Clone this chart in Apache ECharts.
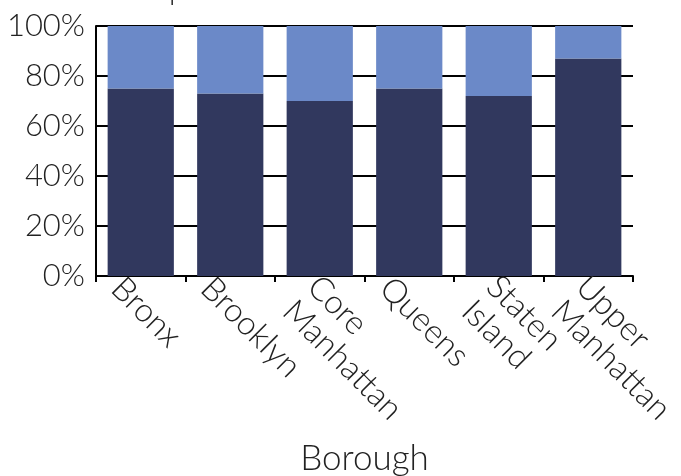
<!DOCTYPE html>
<html>
<head>
<meta charset="utf-8">
<script src="https://cdn.jsdelivr.net/npm/echarts@6/dist/echarts.min.js"></script>
<style>
html,body{margin:0;padding:0;background:#fff;}
#chart{width:681px;height:476px;}
</style>
</head>
<body>
<div id="chart"></div>
<script>
var categories = ['Bronx', 'Brooklyn', 'Core\nManhattan', 'Queens', 'Staten\nIsland', 'Upper\nManhattan'];
var lowerShare = [75, 73, 70, 75, 72, 87];
var upperShare = [25, 27, 30, 25, 28, 13];
var yTicks = [0, 20, 40, 60, 80, 100];

var FONT = 'Lato';
var labelFont = {fontFamily: FONT, fontWeight: 300, fontSize: 33, lineHeight: 35, color: '#222'};
function richStyle(pad) {
  return Object.assign({padding: pad}, labelFont);
}
var chart = echarts.init(document.getElementById('chart'));
chart.setOption({
  animation: false,
  title: {
    text: 'p', left: 164, top: -30,
    textStyle: {fontFamily: FONT, fontWeight: 300, fontSize: 30, color: '#222'}
  },
  grid: {left: 96, right: 48, top: 26, bottom: 200, outerBoundsMode: 'none', containLabel: false},
  xAxis: {
    type: 'category',
    data: categories,
    name: 'Borough',
    nameLocation: 'middle',
    nameGap: 165,
    nameTextStyle: {fontFamily: FONT, fontWeight: 300, fontSize: 35, color: '#222'},
    axisLine: {show: true, lineStyle: {color: '#000', width: 2}},
    axisTick: {show: true, alignWithLabel: false, length: 6, lineStyle: {color: '#000', width: 2}},
    axisLabel: Object.assign({
      interval: 0, rotate: -45, margin: -20,
      align: 'left', verticalAlign: 'top',
      formatter: function (v) {
        var lines = v.split('\n');
        var key = lines.length > 1 ? 'two' : 'one';
        return lines.map(function (l) { return '{' + key + '|' + l + '}'; }).join('\n');
      },
      rich: {
        one: richStyle([37, 0, 0, 2]),
        two: richStyle([10, 0, 0, 13])
      }
    }, labelFont),
    splitLine: {show: false}
  },
  yAxis: {
    type: 'value',
    min: yTicks[0], max: yTicks[yTicks.length - 1], interval: 20,
    axisLine: {show: true, lineStyle: {color: '#000', width: 2}},
    axisTick: {show: false},
    axisLabel: {
      formatter: '{value}%', margin: 11,
      fontFamily: FONT, fontWeight: 300, fontSize: 31, color: '#222'
    },
    splitLine: {show: true, lineStyle: {color: '#000', width: 2}}
  },
  series: [
    {
      type: 'bar', stack: 'share', data: lowerShare, barWidth: '74%',
      itemStyle: {color: '#31385e'}, z: 3
    },
    {
      type: 'bar', stack: 'share', data: upperShare, barWidth: '74%',
      itemStyle: {color: '#6b89c8'}, z: 3
    }
  ]
});
</script>
</body>
</html>
